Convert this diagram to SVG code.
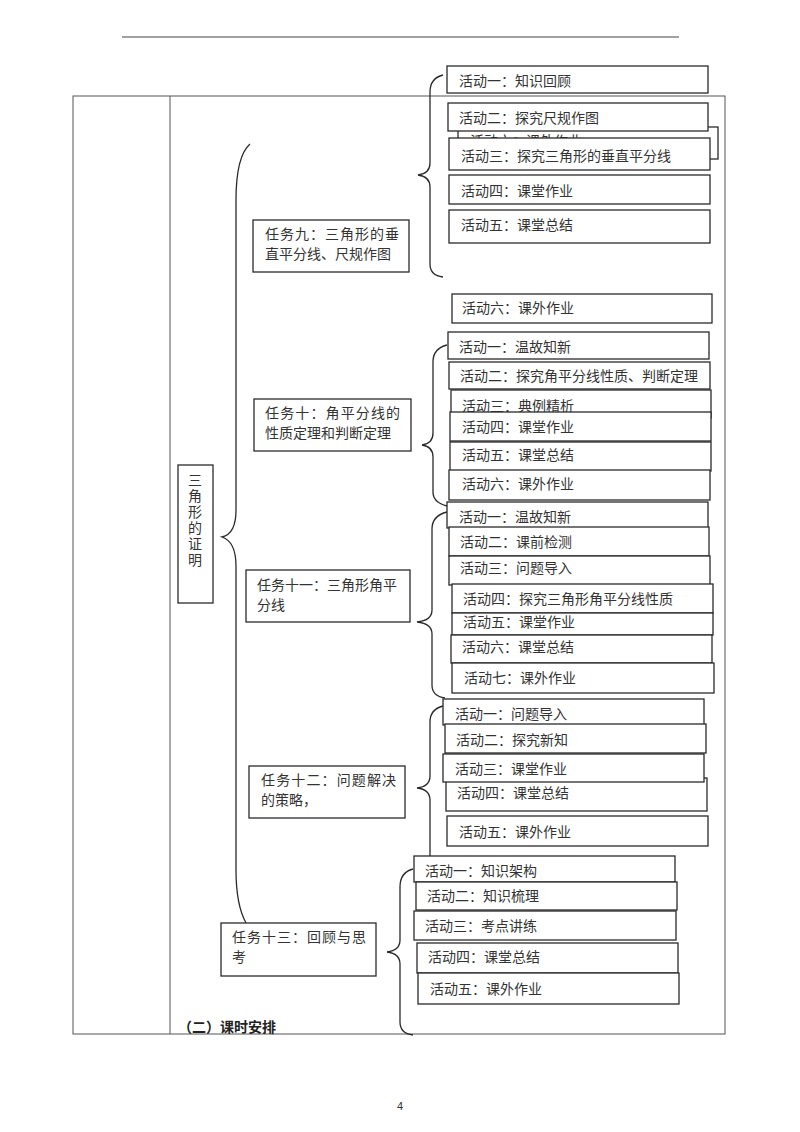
<svg xmlns="http://www.w3.org/2000/svg" width="800" height="1132" viewBox="0 0 800 1132">
<style>
.bg{fill:#fff}
.tbl{fill:none;stroke:#555;stroke-width:1}
.box{fill:#fff;stroke:#2a2a2a;stroke-width:1.3}
.br{fill:none;stroke:#2a2a2a;stroke-width:1.3}
.t{font-family:"Noto Sans CJK SC","Noto Sans",sans-serif;font-size:14px;fill:#333}
.v{font-family:"Noto Sans CJK SC","Noto Sans",sans-serif;font-size:14px;fill:#333;writing-mode:vertical-rl;letter-spacing:2px}
.b{font-family:"Noto Sans CJK SC","Noto Sans",sans-serif;font-size:14px;font-weight:bold;fill:#222}
.pn{font-family:"Liberation Sans",Arial,sans-serif;font-size:11px;fill:#333}
</style>
<rect class="bg" x="0" y="0" width="800" height="1132"/>
<g id="page">
<line x1="122" y1="37" x2="679" y2="37" stroke="#444" stroke-width="1.2"/>
<text class="pn" x="400" y="1110" text-anchor="middle">4</text>
</g>
<g id="table">
<rect class="tbl" x="73" y="96" width="652" height="938"/>
<line class="tbl" x1="170" y1="96" x2="170" y2="1034"/>
<text class="b" x="178" y="1032">（二）课时安排</text>
</g>
<g id="connectors">
<path class="br" d="M250,144 C241,152 236,170 236,200 L236,510 C236,527 231,535 222,537 C231,540 236,550 236,566 L236,870 C236,895 240,912 246,923"/>
<path class="br" d="M443,75 C435,77 430,82 430,92 L430,163 C430,170 426,174 418,175 C426,176 430,180 430,187 L430,264 C430,272 435,276 443,277"/>
<path class="br" d="M447,345 C439,347 433,352 433,362 L433,433 C433,440 429,444 422,445 C429,446 433,450 433,457 L433,492 C433,500 439,504 447,506"/>
<path class="br" d="M447,512 C439,514 432,519 432,529 L432,610 C432,617 427,621 417,622 C427,623 432,627 432,634 L432,685 C432,693 438,697 445,698"/>
<path class="br" d="M443,706 C435,708 430,713 430,722 L430,776 C430,783 426,787 417,788 C426,789 430,793 430,800 L430,856"/>
<path class="br" d="M413,869 C405,871 400,877 400,887 L400,940 C400,947 395,951 387,952 C395,953 400,957 400,964 L400,1022 C400,1030 405,1034 413,1035"/>
</g>
<g id="topic">
<rect class="box" x="178" y="465" width="35" height="138"/>
<text class="v" x="195" y="473">三角形的证明</text>
</g>
<g id="task9">
<rect class="box" x="253" y="220" width="156" height="52"/>
<text class="t"><tspan x="265" y="239" textLength="134" lengthAdjust="spacing">任务九：三角形的垂</tspan><tspan x="265" y="259">直平分线、尺规作图</tspan></text>
</g>
<g id="task10">
<rect class="box" x="254" y="399" width="157" height="52"/>
<text class="t"><tspan x="265" y="418" textLength="135" lengthAdjust="spacing">任务十：角平分线的</tspan><tspan x="265" y="438">性质定理和判断定理</tspan></text>
</g>
<g id="task11">
<rect class="box" x="246" y="570" width="164" height="52"/>
<text class="t"><tspan x="257" y="590">任务十一：三角形角平</tspan><tspan x="257" y="610">分线</tspan></text>
</g>
<g id="task12">
<rect class="box" x="249" y="766" width="156" height="52"/>
<text class="t"><tspan x="261" y="785" textLength="135" lengthAdjust="spacing">任务十二：问题解决</tspan><tspan x="261" y="805">的策略，</tspan></text>
</g>
<g id="task13">
<rect class="box" x="221" y="923" width="155" height="53"/>
<text class="t"><tspan x="232" y="942" textLength="134" lengthAdjust="spacing">任务十三：回顾与思</tspan><tspan x="232" y="962">考</tspan></text>
</g>
<g id="g9">
<g id="g9a1"><rect class="box" x="447" y="66" width="261" height="27"/><text class="t" x="459" y="86">活动一：知识回顾</text></g>
<g id="g9hidden"><rect class="box" x="458" y="127" width="260" height="32"/><text class="t" x="470" y="146">活动六：课外作业</text></g>
<g id="g9a2"><rect class="box" x="448" y="103" width="260" height="28"/><text class="t" x="459" y="123">活动二：探究尺规作图</text></g>
<g id="g9a3"><rect class="box" x="449" y="138" width="261" height="32"/><text class="t" x="461" y="161">活动三：探究三角形的垂直平分线</text></g>
<g id="g9a4"><rect class="box" x="449" y="175" width="261" height="29"/><text class="t" x="461" y="196">活动四：课堂作业</text></g>
<g id="g9a5"><rect class="box" x="449" y="210" width="261" height="33"/><text class="t" x="461" y="230">活动五：课堂总结</text></g>
<g id="g9a6"><rect class="box" x="452" y="294" width="260" height="29"/><text class="t" x="462" y="313">活动六：课外作业</text></g>
</g>
<g id="g10">
<g id="g10a1"><rect class="box" x="448" y="332" width="261" height="27"/><text class="t" x="459" y="352">活动一：温故知新</text></g>
<g id="g10a2"><rect class="box" x="449" y="362" width="261" height="27"/><text class="t" x="460" y="381">活动二：探究角平分线性质、判断定理</text></g>
<g id="g10a3"><rect class="box" x="451" y="390" width="260" height="28"/><text class="t" x="462" y="411">活动三：典例精析</text></g>
<g id="g10a4"><rect class="box" x="450" y="412" width="261" height="29"/><text class="t" x="462" y="432">活动四：课堂作业</text></g>
<g id="g10a5"><rect class="box" x="450" y="442" width="261" height="29"/><text class="t" x="462" y="460">活动五：课堂总结</text></g>
<g id="g10a6"><rect class="box" x="449" y="470" width="261" height="30"/><text class="t" x="462" y="489">活动六：课外作业</text></g>
</g>
<g id="g11">
<g id="g11a1"><rect class="box" x="447" y="502" width="261" height="26"/><text class="t" x="459" y="522">活动一：温故知新</text></g>
<g id="g11a2"><rect class="box" x="449" y="527" width="260" height="29"/><text class="t" x="460" y="547">活动二：课前检测</text></g>
<g id="g11a3"><rect class="box" x="449" y="556" width="261" height="29"/><text class="t" x="460" y="573">活动三：问题导入</text></g>
<g id="g11a4"><rect class="box" x="452" y="584" width="261" height="29"/><text class="t" x="463" y="604">活动四：探究三角形角平分线性质</text></g>
<g id="g11a5"><rect class="box" x="452" y="613" width="261" height="22"/><text class="t" x="463" y="627">活动五：课堂作业</text></g>
<g id="g11a6"><rect class="box" x="451" y="635" width="261" height="28"/><text class="t" x="462" y="652">活动六：课堂总结</text></g>
<g id="g11a7"><rect class="box" x="452" y="663" width="262" height="30"/><text class="t" x="464" y="683">活动七：课外作业</text></g>
</g>
<g id="g12">
<g id="g12a1"><rect class="box" x="443" y="699" width="261" height="26"/><text class="t" x="455" y="719">活动一：问题导入</text></g>
<g id="g12a2"><rect class="box" x="445" y="724" width="261" height="29"/><text class="t" x="456" y="745">活动二：探究新知</text></g>
<g id="g12a4"><rect class="box" x="446" y="778" width="261" height="33"/><text class="t" x="457" y="798">活动四：课堂总结</text></g>
<g id="g12a3"><rect class="box" x="443" y="754" width="261" height="28"/><text class="t" x="455" y="774">活动三：课堂作业</text></g>
<g id="g12a5"><rect class="box" x="447" y="816" width="261" height="30"/><text class="t" x="459" y="837">活动五：课外作业</text></g>
</g>
<g id="g13">
<g id="g13a1"><rect class="box" x="414" y="856" width="261" height="26"/><text class="t" x="425" y="876">活动一：知识架构</text></g>
<g id="g13a2"><rect class="box" x="416" y="882" width="261" height="28"/><text class="t" x="427" y="901">活动二：知识梳理</text></g>
<g id="g13a3"><rect class="box" x="414" y="911" width="262" height="29"/><text class="t" x="425" y="931">活动三：考点讲练</text></g>
<g id="g13a4"><rect class="box" x="417" y="943" width="261" height="30"/><text class="t" x="428" y="962">活动四：课堂总结</text></g>
<g id="g13a5"><rect class="box" x="418" y="973" width="261" height="31"/><text class="t" x="430" y="994">活动五：课外作业</text></g>
</g>
</svg>
